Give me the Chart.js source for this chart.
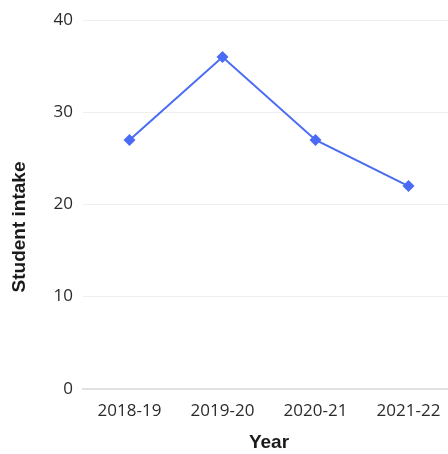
<!DOCTYPE html>
<html>
<head>
<meta charset="utf-8">
<script src="https://cdn.jsdelivr.net/npm/chart.js@4"></script>
<style>
  html, body { margin: 0; padding: 0; background: #fff; overflow: hidden; }
  #wrap { width: 461px; height: 454px; }
</style>
</head>
<body>
<div id="wrap"><canvas id="chart" width="461" height="454"></canvas></div>
<script>
  const years = ['2018-19', '2019-20', '2020-21', '2021-22'];
  const intake = [27, 36, 27, 22];
  const yTicks = [0, 10, 20, 30, 40];
  const yTitle = 'Student intake';

  const blue = 'rgb(74, 108, 245)';
  const titleFont = 'bold 19px "Liberation Sans", Arial, sans-serif';
  Chart.defaults.font.family = '"Open Sans", "Noto Sans", sans-serif';
  Chart.defaults.color = '#2b2b2b';

  // y title drawn centred on the canvas height, like the reference
  const yTitlePlugin = {
    id: 'yTitle',
    afterDraw(chart) {
      const ctx = chart.ctx;
      ctx.save();
      ctx.translate(20, chart.height / 2);
      ctx.rotate(-Math.PI / 2);
      ctx.font = titleFont;
      ctx.fillStyle = '#1a1a1a';
      ctx.textAlign = 'center';
      ctx.textBaseline = 'middle';
      ctx.fillText(yTitle, 0, 0);
      ctx.restore();
    }
  };

  new Chart(document.getElementById('chart'), {
    type: 'line',
    data: {
      labels: years,
      datasets: [{
        label: yTitle,
        data: intake,
        borderColor: blue,
        backgroundColor: blue,
        borderWidth: 2,
        pointStyle: 'rectRot',
        pointRadius: 6,
        pointBorderWidth: 0,
        tension: 0
      }]
    },
    options: {
      responsive: false,
      animation: false,
      layout: { padding: { top: 2, left: 0, right: 0, bottom: 0 } },
      plugins: { legend: { display: false }, tooltip: { enabled: false } },
      scales: {
        x: {
          offset: true,
          grid: { display: false },
          border: { color: '#e2e2e2', width: 2 },
          ticks: { font: { size: 17 }, padding: 4, maxRotation: 0 },
          title: {
            display: true, text: 'Year', color: '#1a1a1a',
            font: { family: '"Liberation Sans", Arial, sans-serif', size: 19, weight: 'bold' },
            padding: { top: 6, bottom: 0 }
          }
        },
        y: {
          min: 0,
          max: 40,
          afterBuildTicks: axis => { axis.ticks = yTicks.map(v => ({ value: v })); },
          afterFit: axis => { axis.width = 83; },
          grid: { color: '#efefef', drawTicks: false },
          border: { display: false },
          ticks: { font: { size: 17 }, padding: 10 },
          title: { display: false }
        }
      }
    },
    plugins: [yTitlePlugin]
  });
</script>
</body>
</html>
